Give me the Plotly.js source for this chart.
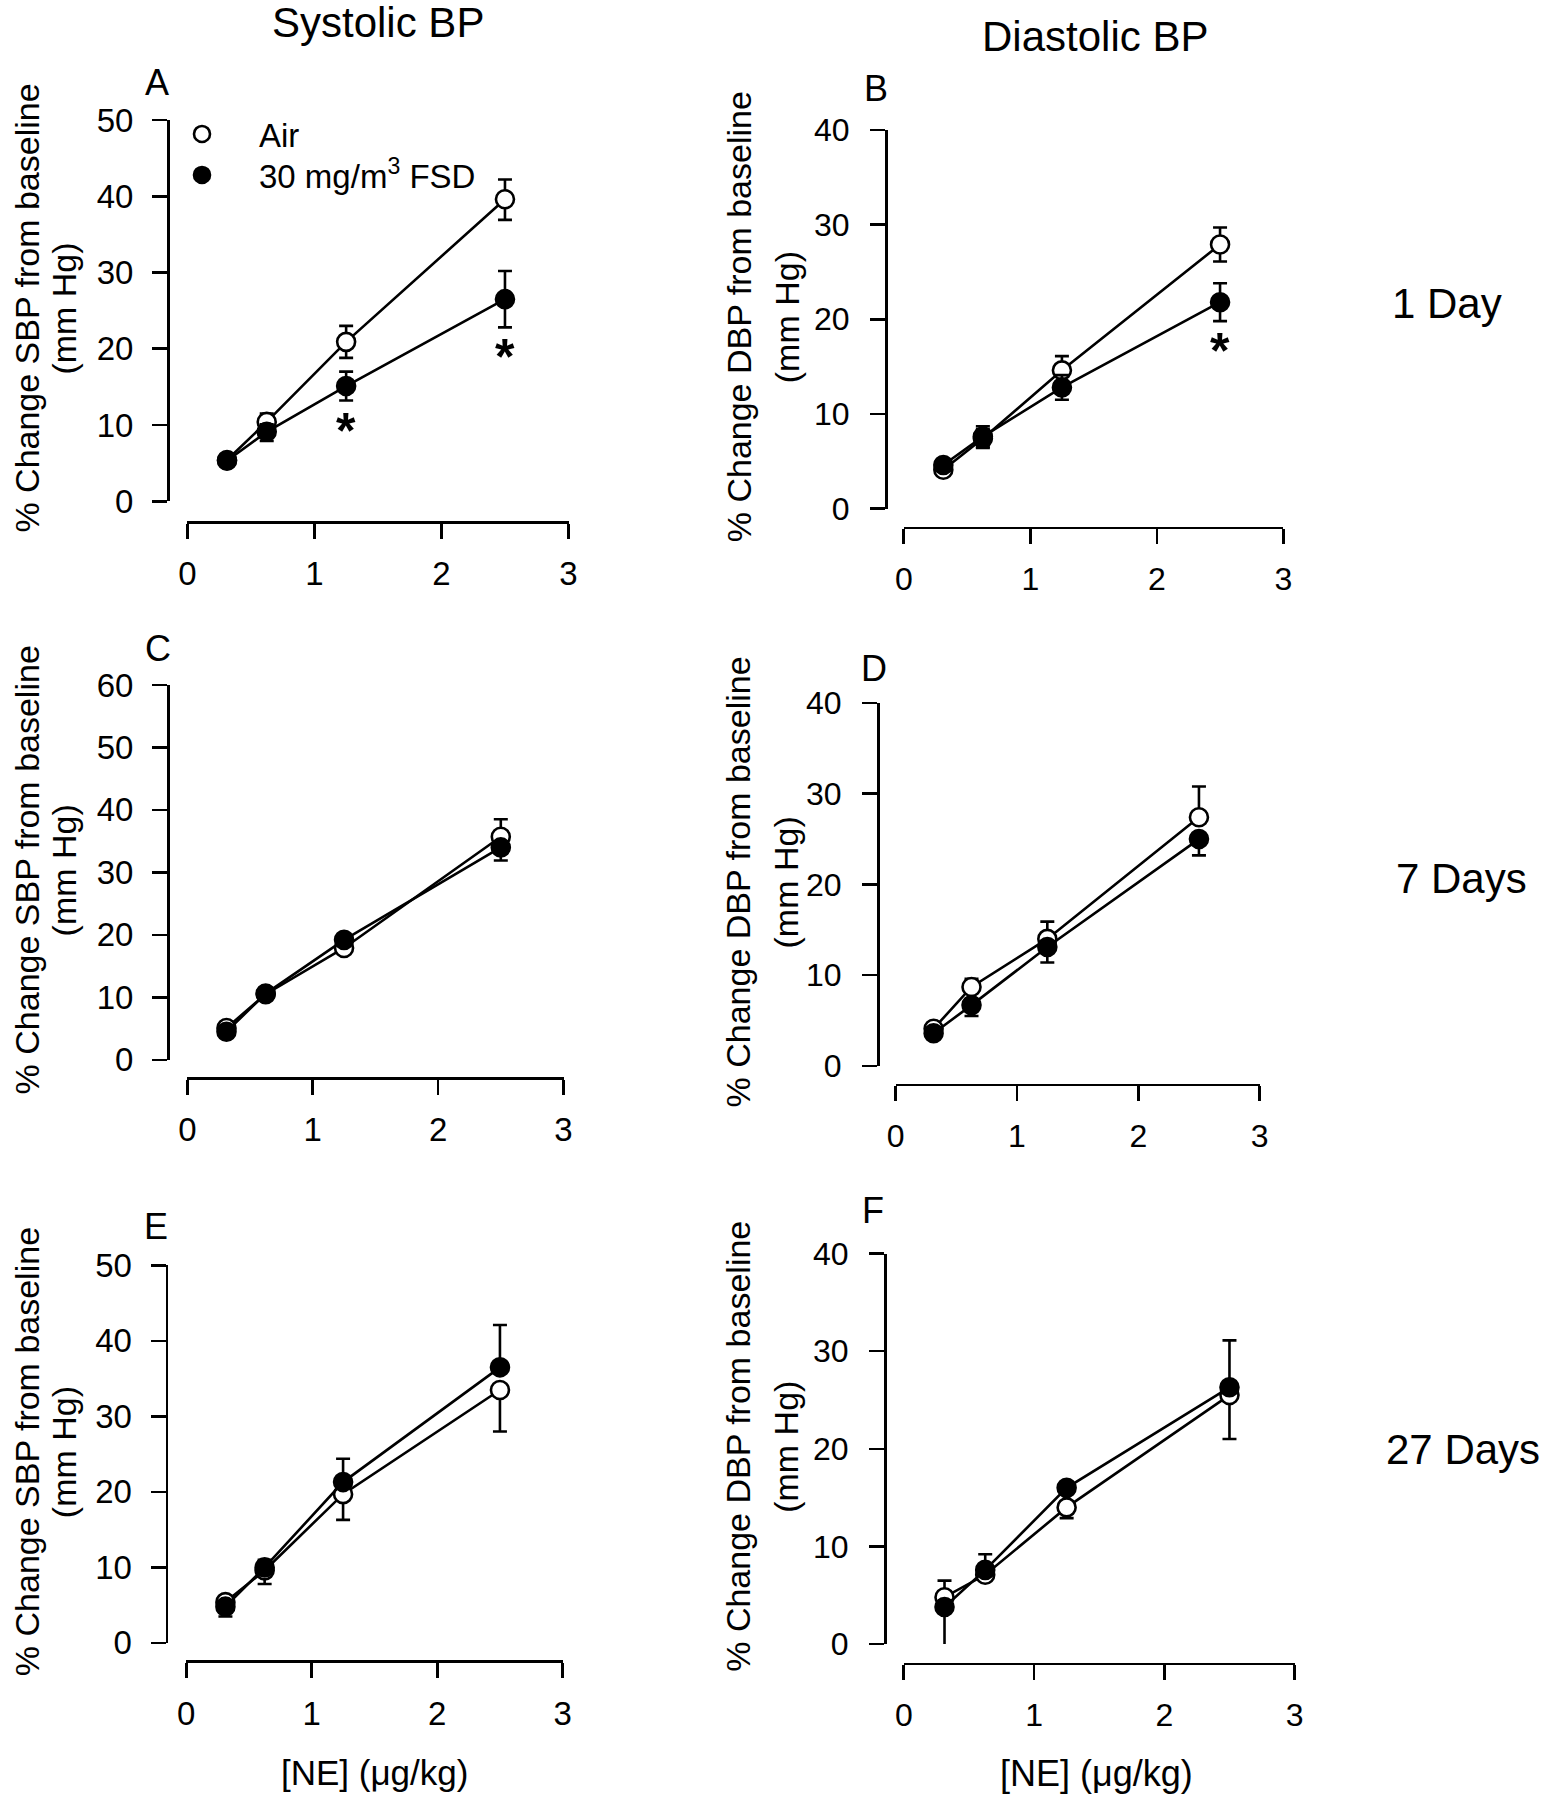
<!DOCTYPE html>
<html>
<head>
<meta charset="utf-8">
<script src="https://cdn.plot.ly/plotly-3.0.1.min.js"></script>
<style>html,body{margin:0;padding:0;background:#fff}#chart{width:1541px;height:1800px}</style>
</head>
<body>
<div id="chart"></div>
<script>
// ---------------- data ----------------
const doseNE = [0.3125, 0.625, 1.25, 2.5];
const xTicks = [0, 1, 2, 3];
const seriesNames = ['Air', '30 mg/m<sup>3</sup> FSD'];

// A: systolic, 1 day
const sbpDay1Air = [5.4, 10.4, 20.9, 39.6];
const sbpDay1AirUp = [0.5, 1.1, 2.1, 2.6];
const sbpDay1AirDown = [0.5, 1.1, 2.1, 2.7];
const sbpDay1FSD = [5.3, 9.1, 15.1, 26.5];
const sbpDay1FSDUp = [0.5, 1.0, 1.9, 3.7];
const sbpDay1FSDDown = [0.5, 1.2, 1.9, 3.7];
const sbpDay1Sig = [false, false, true, true];
const sbpDay1Ticks = [0, 10, 20, 30, 40, 50];

// B: diastolic, 1 day
const dbpDay1Air = [4.1, 7.4, 14.6, 27.9];
const dbpDay1AirUp = [0.5, 1.0, 1.5, 1.8];
const dbpDay1AirDown = [0.5, 1.0, 1.5, 1.8];
const dbpDay1FSD = [4.6, 7.6, 12.8, 21.8];
const dbpDay1FSDUp = [0.5, 1.1, 1.3, 2.0];
const dbpDay1FSDDown = [0.5, 1.1, 1.3, 2.0];
const dbpDay1Sig = [false, false, false, true];
const dbpDay1Ticks = [0, 10, 20, 30, 40];

// C: systolic, 7 days
const sbpDay7Air = [5.1, 10.5, 17.9, 35.7];
const sbpDay7AirUp = [0.5, 0.6, 0.8, 2.8];
const sbpDay7AirDown = [0, 0, 0, 0];
const sbpDay7FSD = [4.5, 10.6, 19.2, 34.0];
const sbpDay7FSDUp = [0, 0, 0, 0];
const sbpDay7FSDDown = [0.5, 0.6, 0.8, 2.1];
const sbpDay7Sig = [false, false, false, false];
const sbpDay7Ticks = [0, 10, 20, 30, 40, 50, 60];

// D: diastolic, 7 days
const dbpDay7Air = [4.1, 8.7, 14.0, 27.4];
const dbpDay7AirUp = [0.6, 0.9, 1.9, 3.4];
const dbpDay7AirDown = [0, 0, 0, 0];
const dbpDay7FSD = [3.6, 6.7, 13.1, 25.0];
const dbpDay7FSDUp = [0, 0, 0, 0];
const dbpDay7FSDDown = [0.5, 1.2, 1.7, 1.8];
const dbpDay7Sig = [false, false, false, false];
const dbpDay7Ticks = [0, 10, 20, 30, 40];

// E: systolic, 27 days
const sbpDay27Air = [5.4, 9.6, 19.7, 33.5];
const sbpDay27AirUp = [0, 0, 0, 0];
const sbpDay27AirDown = [1.9, 1.8, 3.4, 5.5];
const sbpDay27FSD = [4.8, 10.0, 21.3, 36.5];
const sbpDay27FSDUp = [0.5, 1.0, 3.1, 5.6];
const sbpDay27FSDDown = [0, 0, 0, 0];
const sbpDay27Sig = [false, false, false, false];
const sbpDay27Ticks = [0, 10, 20, 30, 40, 50];

// F: diastolic, 27 days
const dbpDay27Air = [4.8, 7.1, 14.0, 25.5];
const dbpDay27AirUp = [1.7, 0, 0, 0];
const dbpDay27AirDown = [0, 0.5, 1.1, 4.5];
const dbpDay27FSD = [3.8, 7.6, 16.0, 26.3];
const dbpDay27FSDUp = [0, 1.6, 0.5, 4.8];
const dbpDay27FSDDown = [4.2, 0, 0, 0];
const dbpDay27Sig = [false, false, false, false];
const dbpDay27Ticks = [0, 10, 20, 30, 40];

const columnTitles = ['Systolic BP', 'Diastolic BP'];
const rowLabels = ['1 Day', '7 Days', '27 Days'];
const panelLetters = ['A', 'B', 'C', 'D', 'E', 'F'];
const yTitleSBP = ['% Change SBP from baseline', '(mm Hg)'];
const yTitleDBP = ['% Change DBP from baseline', '(mm Hg)'];
const xTitle = '[NE] (\u03bcg/kg)';

// ---------------- layout geometry (pixels) ----------------
const W = 1541, H = 1800;
const px = v => v / W;
const py = v => 1 - v / H;
const FONT = 'Liberation Sans, Arial, Helvetica, sans-serif';

const panels = [
  {air: sbpDay1Air, airUp: sbpDay1AirUp, airDn: sbpDay1AirDown, fsd: sbpDay1FSD, fsdUp: sbpDay1FSDUp, fsdDn: sbpDay1FSDDown, sig: sbpDay1Sig, ticks: sbpDay1Ticks, ytitle: yTitleSBP,
   xd: [187.3, 568.5], yd: [501.2, 120], xline: 522, yline: 168, tfs: 33, ystand: 12, titleX: [27, 64], letter: [157, 82]},
  {air: dbpDay1Air, airUp: dbpDay1AirUp, airDn: dbpDay1AirDown, fsd: dbpDay1FSD, fsdUp: dbpDay1FSDUp, fsdDn: dbpDay1FSDDown, sig: dbpDay1Sig, ticks: dbpDay1Ticks, ytitle: yTitleDBP,
   xd: [903.8, 1283.3], yd: [508.5, 130], xline: 527.7, yline: 886, tfs: 32, ystand: 14, titleX: [739, 787], letter: [876, 89]},
  {air: sbpDay7Air, airUp: sbpDay7AirUp, airDn: sbpDay7AirDown, fsd: sbpDay7FSD, fsdUp: sbpDay7FSDUp, fsdDn: sbpDay7FSDDown, sig: sbpDay7Sig, ticks: sbpDay7Ticks, ytitle: yTitleSBP,
   xd: [187.3, 563.5], yd: [1059.8, 685], xline: 1078, yline: 168, tfs: 33, ystand: 12, titleX: [27, 64], letter: [158, 648]},
  {air: dbpDay7Air, airUp: dbpDay7AirUp, airDn: dbpDay7AirDown, fsd: dbpDay7FSD, fsdUp: dbpDay7FSDUp, fsdDn: dbpDay7FSDDown, sig: dbpDay7Sig, ticks: dbpDay7Ticks, ytitle: yTitleDBP,
   xd: [895.7, 1259.6], yd: [1065.9, 703], xline: 1084.6, yline: 877.9, tfs: 32, ystand: 14, titleX: [738, 786], letter: [874, 668]},
  {air: sbpDay27Air, airUp: sbpDay27AirUp, airDn: sbpDay27AirDown, fsd: sbpDay27FSD, fsdUp: sbpDay27FSDUp, fsdDn: sbpDay27FSDDown, sig: sbpDay27Sig, ticks: sbpDay27Ticks, ytitle: yTitleSBP,
   xd: [186.2, 562.7], yd: [1642.9, 1265.4], xline: 1661.3, yline: 166.5, tfs: 33, ystand: 12, titleX: [27, 64], letter: [156, 1226]},
  {air: dbpDay27Air, airUp: dbpDay27AirUp, airDn: dbpDay27AirDown, fsd: dbpDay27FSD, fsdUp: dbpDay27FSDUp, fsdDn: dbpDay27FSDDown, sig: dbpDay27Sig, ticks: dbpDay27Ticks, ytitle: yTitleDBP,
   xd: [903.8, 1294.6], yd: [1644.1, 1253.5], xline: 1663.8, yline: 884.9, tfs: 32, ystand: 14, titleX: [738, 786], letter: [873, 1210]}
];

const LW = 2.6;
const MS = 18;
const traces = [];
const annotations = [];
const legendBase = {xanchor: 'left', yanchor: 'top', bgcolor: 'rgba(0,0,0,0)',
  font: {family: FONT, size: 33, color: '#000'}, itemwidth: 104, tracegroupgap: 0};
const layout = {
  width: W, height: H,
  margin: {l: 0, r: 0, t: 0, b: 0},
  paper_bgcolor: '#fff', plot_bgcolor: 'rgba(0,0,0,0)',
  font: {family: FONT, color: '#000', size: 30},
  showlegend: true,
  legend: Object.assign({x: px(145), y: py(106)}, legendBase),
  legend2: Object.assign({x: px(145), y: py(147)}, legendBase),
  annotations: annotations
};

panels.forEach((p, i) => {
  const n = i + 1;
  const xa = 'x' + (n === 1 ? '' : n), ya = 'y' + (n === 1 ? '' : n);
  const xk = 'xaxis' + (n === 1 ? '' : n), yk = 'yaxis' + (n === 1 ? '' : n);
  const ymax = p.ticks[p.ticks.length - 1];
  layout[xk] = {
    domain: [px(p.xd[0]), px(p.xd[1])], range: [0, 3], anchor: 'free', position: py(p.xline),
    tickvals: xTicks, ticktext: xTicks.map(String), ticks: 'outside', ticklen: 15, tickwidth: LW, tickcolor: '#000',
    showline: true, linewidth: LW, linecolor: '#000', showgrid: false, zeroline: false, fixedrange: true,
    ticklabelstandoff: 7,
    tickfont: {family: FONT, size: p.tfs, color: '#000'}
  };
  layout[yk] = {
    domain: [py(p.yd[0]), py(p.yd[1])], range: [0, ymax], anchor: 'free', position: px(p.yline),
    tickvals: p.ticks, ticktext: p.ticks.map(String), ticks: 'outside', ticklen: 15, tickwidth: LW, tickcolor: '#000',
    showline: true, linewidth: LW, linecolor: '#000', showgrid: false, zeroline: false, fixedrange: true,
    ticklabelstandoff: p.ystand,
    tickfont: {family: FONT, size: p.tfs, color: '#000'}
  };
  const base = {x: doseNE, xaxis: xa, yaxis: ya, type: 'scatter', cliponaxis: true};
  const series = [
    {name: seriesNames[0], y: p.air, up: p.airUp, dn: p.airDn, fill: '#fff', grp: 'air', leg: 'legend'},
    {name: seriesNames[1], y: p.fsd, up: p.fsdUp, dn: p.fsdDn, fill: '#000', grp: 'fsd', leg: 'legend2'}
  ];
  series.forEach(s => {
    // connecting line
    traces.push(Object.assign({}, base, {
      name: s.name, y: s.y, mode: 'lines', showlegend: false, legendgroup: s.grp, legend: s.leg,
      line: {color: '#000', width: LW}
    }));
    // markers with error bars
    traces.push(Object.assign({}, base, {
      name: s.name, y: s.y, mode: 'markers', showlegend: n === 1, legendgroup: s.grp, legend: s.leg,
      marker: {symbol: 'circle', size: MS, color: s.fill, line: {color: '#000', width: LW}},
      error_y: {type: 'data', symmetric: false, array: s.up, arrayminus: s.dn, color: '#000', thickness: LW, width: 7}
    }));
  });
  // significance asterisks below the FSD error bar
  p.sig.forEach((s, k) => {
    if (!s) return;
    annotations.push({xref: xa, yref: ya, x: doseNE[k], y: p.fsd[k] - p.fsdDn[k], text: '*',
      showarrow: false, xanchor: 'center', yanchor: 'top', yshift: 0,
      font: {family: FONT, size: 50, color: '#000', weight: 'bold'}});
  });
  // y axis titles (two lines)
  const cy = (p.yd[0] + p.yd[1]) / 2 - 2;
  p.ytitle.forEach((t, k) => {
    annotations.push({xref: 'paper', yref: 'paper', x: px(p.titleX[k]), y: py(cy), text: t, textangle: -90,
      showarrow: false, xanchor: 'center', yanchor: 'middle', font: {family: FONT, size: 34, color: '#000'}});
  });
  // panel letter
  annotations.push({xref: 'paper', yref: 'paper', x: px(p.letter[0]), y: py(p.letter[1]), text: panelLetters[i],
    showarrow: false, xanchor: 'center', yanchor: 'middle', font: {family: FONT, size: 36, color: '#000'}});
});

// column titles
[[378, 22], [1095, 36]].forEach((pos, k) => annotations.push({xref: 'paper', yref: 'paper', x: px(pos[0]), y: py(pos[1]),
  text: columnTitles[k], showarrow: false, xanchor: 'center', yanchor: 'middle', font: {family: FONT, size: 42, color: '#000'}}));
// row labels
[[1447, 304], [1461, 879], [1463, 1449]].forEach((pos, k) => annotations.push({xref: 'paper', yref: 'paper', x: px(pos[0]), y: py(pos[1]),
  text: rowLabels[k], showarrow: false, xanchor: 'center', yanchor: 'middle', font: {family: FONT, size: 42, color: '#000'}}));
// x axis titles (bottom row)
[[374, 1772, 35], [1096, 1773, 36]].forEach(pos => annotations.push({xref: 'paper', yref: 'paper', x: px(pos[0]), y: py(pos[1]),
  text: xTitle, showarrow: false, xanchor: 'center', yanchor: 'middle', font: {family: FONT, size: pos[2], color: '#000'}}));

Plotly.newPlot('chart', traces, layout, {staticPlot: true, displayModeBar: false});
</script>
</body>
</html>
